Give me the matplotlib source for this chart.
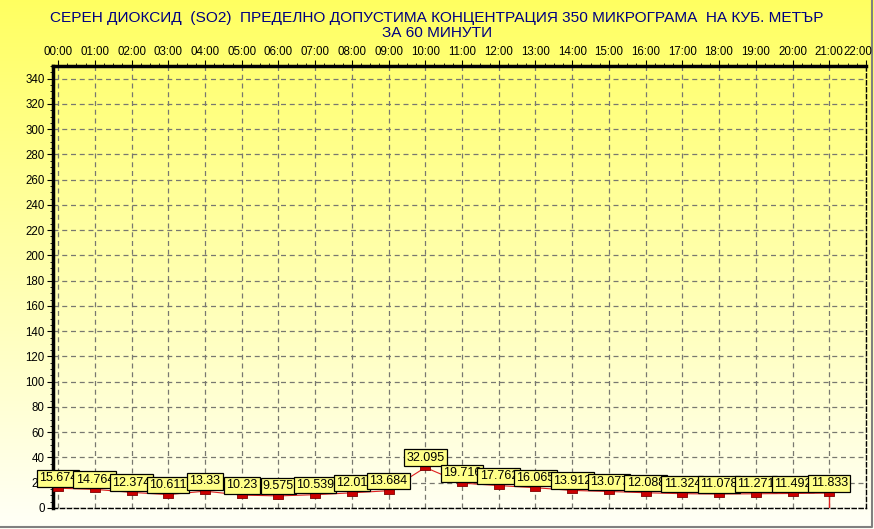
import numpy as np
import matplotlib.pyplot as plt
import matplotlib.transforms as mtransforms
from matplotlib.ticker import MultipleLocator

# Données : concentration horaire SO2
heures = ['00:00', '01:00', '02:00', '03:00', '04:00', '05:00', '06:00', '07:00',
          '08:00', '09:00', '10:00', '11:00', '12:00', '13:00', '14:00', '15:00',
          '16:00', '17:00', '18:00', '19:00', '20:00', '21:00', '22:00']
valeurs = [15.674, 14.764, 12.374, 10.611, 13.33, 10.23, 9.575, 10.539, 12.01,
           13.684, 32.095, 19.716, 17.762, 16.065, 13.912, 13.077, 12.088, 11.324,
           11.078, 11.271, 11.492, 11.833]
etiquettes = ['15.674', '14.764', '12.374', '10.611', '13.33', '10.23', '9.575',
              '10.539', '12.01', '13.684', '32.095', '19.716', '17.762', '16.065',
              '13.912', '13.077', '12.088', '11.324', '11.078', '11.271', '11.492',
              '11.833']
titre = 'СЕРЕН ДИОКСИД  (SO2)  ПРЕДЕЛНО ДОПУСТИМА КОНЦЕНТРАЦИЯ 350 МИКРОГРАМА  НА КУБ. МЕТЪР\nЗА 60 МИНУТИ'

plt.rcParams['font.family'] = ['Liberation Sans', 'DejaVu Sans']

fig = plt.figure(figsize=(8.74, 5.29), dpi=100)

# fond dégradé jaune
bg = fig.add_axes([0, 0, 1, 1], zorder=-10)
grad = np.linspace(0, 1, 256).reshape(-1, 1)
haut = np.array([1.0, 1.0, 0.38])
bas = np.array([1.0, 1.0, 0.97])
img = haut[None, None, :] * (1 - grad[:, :, None]) + bas[None, None, :] * grad[:, :, None]
bg.imshow(img, aspect='auto', extent=[0, 1, 0, 1])
bg.plot([0, 0.998, 0.998], [0.004, 0.004, 1], color='#808080', lw=1.5, transform=bg.transAxes)
bg.set_xlim(0, 1)
bg.set_ylim(0, 1)
bg.axis('off')

ax = fig.add_axes([0.0606, 0.0397, 0.9302, 0.8355])
ax.patch.set_alpha(0)

x = np.arange(len(valeurs))
ax.plot(x, valeurs, color='#e02020', lw=0.8, zorder=3)
rect = [(-1, -0.55), (1, -0.55), (1, 0.55), (-1, 0.55), (-1, -0.55)]
ax.plot(x, valeurs, ls='none', marker=rect, markersize=7, markerfacecolor='#cc0000',
        markeredgecolor='#800000', markeredgewidth=0.6, zorder=4)
ax.vlines(x[-1], 0, valeurs[-1], color='#e02020', lw=1, zorder=3)

for xi, v, t in zip(x, valeurs, etiquettes):
    ax.annotate(t, (xi, v), xytext=(0, 7), textcoords='offset points', ha='center',
                va='center', fontsize=9, zorder=5,
                bbox=dict(boxstyle='square,pad=0.18', fc='#ffff88', ec='black', lw=0.9))

ax.set_xlim(-0.14, 22)
ax.set_ylim(0, 350)
ax.set_xticks(np.arange(len(heures)))
ax.set_xticklabels(heures, fontsize=8.3)
ax.xaxis.tick_top()
ax.set_yticks(np.arange(0, 341, 20))
ax.yaxis.set_minor_locator(MultipleLocator(5))
ax.xaxis.set_minor_locator(MultipleLocator(0.25))
ax.tick_params(axis='y', labelsize=8.3, length=4, pad=2)
ax.tick_params(axis='x', length=4, pad=2)
ax.tick_params(which='minor', length=2)
ax.grid(True, color='#787870', ls=(0, (4, 3)), lw=0.9)

# décale le dernier libellé pour qu'il reste dans l'image
dernier = ax.get_xticklabels()[-1]
dernier.set_transform(dernier.get_transform() +
                      mtransforms.ScaledTranslation(-8 / 100, 0, fig.dpi_scale_trans))

ax.spines['left'].set_linewidth(2.5)
ax.spines['top'].set_linewidth(2.5)
for s in ['right', 'bottom']:
    ax.spines[s].set_linestyle((0, (3, 2)))
    ax.spines[s].set_linewidth(1)

fig.text(0.5, 0.979, titre, ha='center', va='top', fontsize=11.1, color='#000080',
         linespacing=1.08)

fig.savefig('out.png', dpi=100)
